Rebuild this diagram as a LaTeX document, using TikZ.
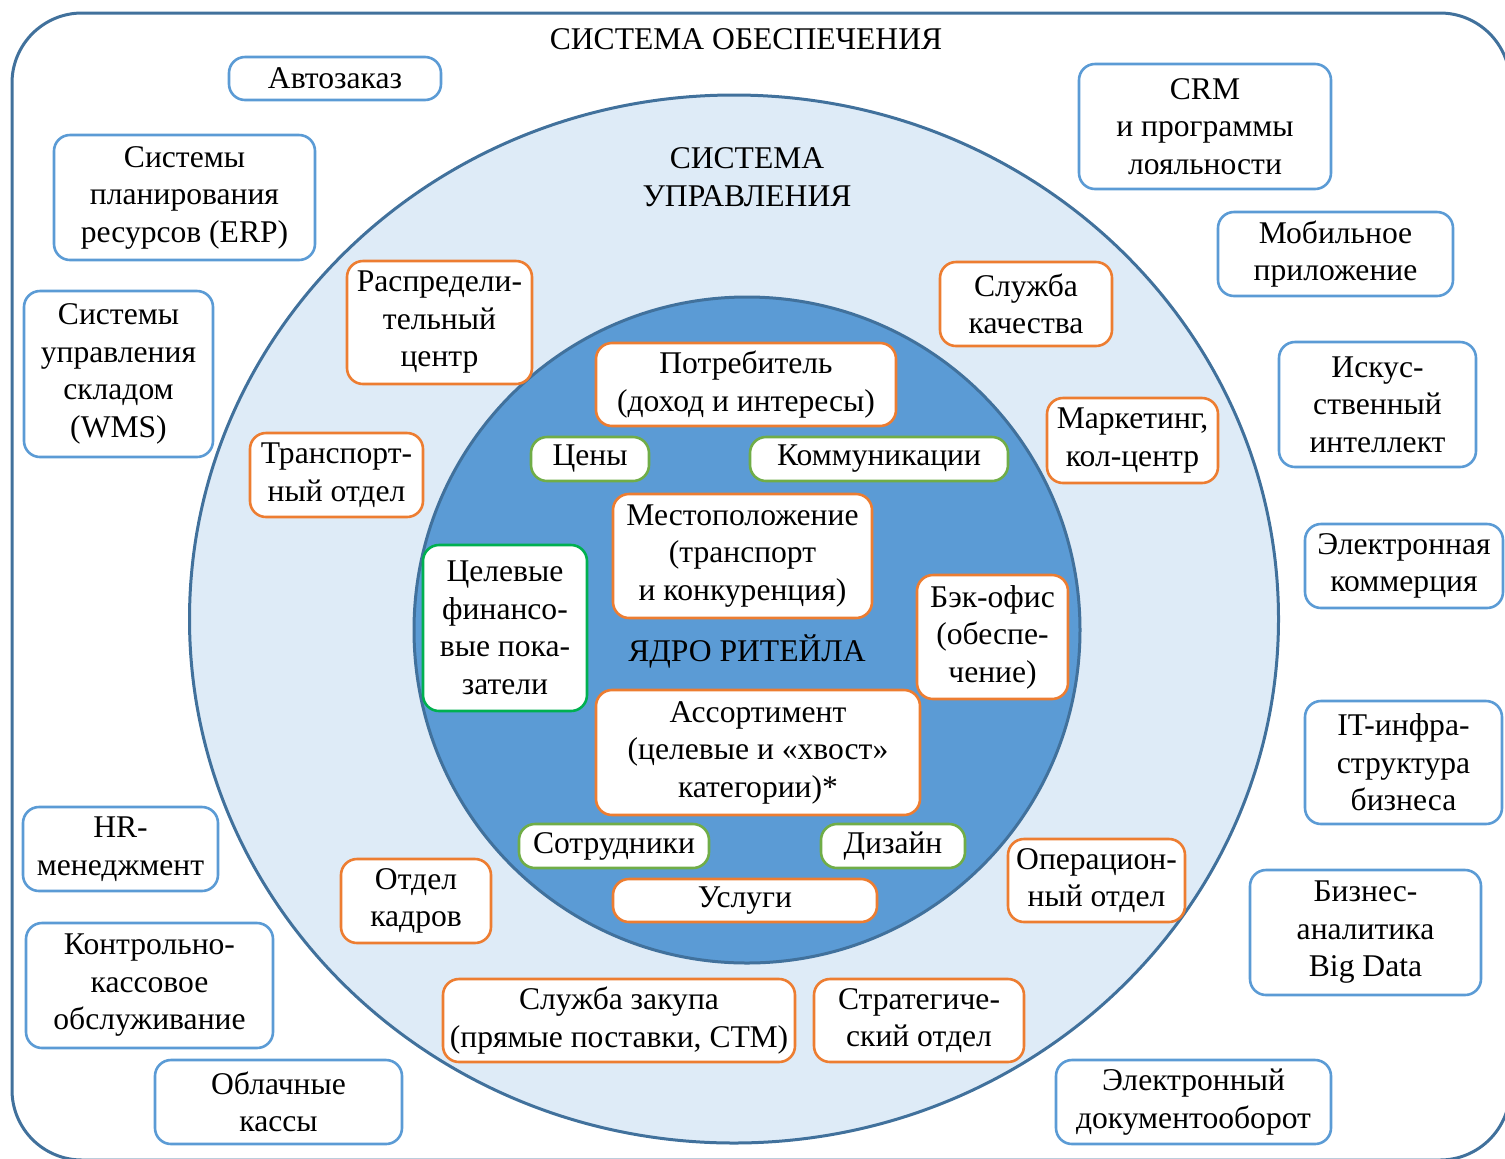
\documentclass[tikz,border=0pt]{standalone}
\usepackage{fontspec}
\setmainfont{Liberation Serif}
\definecolor{FrameBlue}{HTML}{41719C}
\definecolor{RingFill}{HTML}{DEEBF7}
\definecolor{CoreFill}{HTML}{5B9BD5}
\definecolor{BoxBlue}{HTML}{5B9BD5}
\definecolor{BoxOrange}{HTML}{ED7D31}
\definecolor{BoxGreen}{HTML}{70AD47}
\definecolor{KpiGreen}{HTML}{00B050}

\begin{document}
\begin{tikzpicture}[x=0.5pt,y=-0.5pt,
	every node/.style={font=\fontsize{15.8}{18.75}\selectfont,align=center,inner sep=0pt},
	wh/.style 2 args={minimum width=#1*0.5pt,minimum height=#2*0.5pt},
	box/.style={draw,line width=1.3pt,rounded corners=8pt,fill=white},
	supbox/.style={box,draw=BoxBlue},
	mgmtbox/.style={box,draw=BoxOrange},
	mixbox/.style={box,draw=BoxGreen},
	kpibox/.style={box,draw=KpiGreen}]
\useasboundingbox (0,0) rectangle (1505,1158);
\clip (0,0) rectangle (1505,1158);
% rings
\draw[FrameBlue,line width=1.5pt,rounded corners=35pt] (12,13) rectangle (1510,1160);
\draw[FrameBlue,line width=1.5pt,fill=RingFill] (734,619) ellipse [x radius=272.25pt,y radius=262pt];
\draw[FrameBlue,line width=1.5pt,fill=CoreFill] (747,630) circle [radius=166.5pt];
\node (supT) at (746,39) {СИСТЕМА ОБЕСПЕЧЕНИЯ};
\node (mgmtT) at (747,177) {СИСТЕМА\\УПРАВЛЕНИЯ};
\node (coreT) at (747,651) {ЯДРО РИТЕЙЛА};
% support systems
\node[supbox,wh={212}{43}] (auto) at (335,78.5) {Автозаказ};
\node[supbox,wh={261}{125}] (erp) at (184.5,197.5) {Системы\\планирования\\ресурсов (ERP)};
\node[supbox,wh={189}{166}] (wms) at (118.5,374) {Системы\\управления\\складом\\(WMS)};
\node[supbox,wh={252}{125}] (crm) at (1205,126.5) {CRM\\и программы\\лояльности};
\node[supbox,wh={235}{84}] (mobile) at (1335.5,254) {Мобильное\\приложение};
\node[supbox,wh={197}{125}] (ai) at (1377.5,404.5) {Искус-\\ственный\\интеллект};
\node[supbox,wh={198}{84}] (ecom) at (1404,566) {Электронная\\коммерция};
\node[supbox,wh={197}{123}] (itinfra) at (1403.5,762.5) {IT-инфра-\\структура\\бизнеса};
\node[supbox,wh={231}{125}] (bigdata) at (1365.5,932.5) {Бизнес-\\аналитика\\Big Data};
\node[supbox,wh={275}{84}] (edo) at (1193.5,1102) {Электронный\\документооборот};
\node[supbox,wh={195}{84}] (hrm) at (120.5,849) {HR-\\менеджмент};
\node[supbox,wh={247}{125}] (kko) at (149.5,985.5) {Контрольно-\\кассовое\\обслуживание};
\node[supbox,wh={247}{84}] (cloud) at (278.5,1102) {Облачные\\кассы};
% management departments
\node[mgmtbox,wh={185}{123}] (dc) at (439.5,322.5) {Распредели-\\тельный\\центр};
\node[mgmtbox,wh={173}{84}] (transp) at (336.5,475) {Транспорт-\\ный отдел};
\node[mgmtbox,wh={172}{84}] (quality) at (1026,304) {Служба\\качества};
\node[mgmtbox,wh={171}{85}] (mkt) at (1132.5,440.5) {Маркетинг,\\кол-центр};
\node[mgmtbox,wh={177}{83}] (ops) at (1096.5,880.5) {Операцион-\\ный отдел};
\node[mgmtbox,wh={150}{84}] (staffdept) at (416,901) {Отдел\\кадров};
\node[mgmtbox,wh={352}{83}] (purch) at (619,1020.5) {Служба закупа\\(прямые поставки, СТМ)};
\node[mgmtbox,wh={210}{83}] (strat) at (919,1020.5) {Стратегиче-\\ский отдел};
% retail core
\node[mgmtbox,wh={300}{83}] (consumer) at (746,384.5) {Потребитель\\(доход и интересы)};
\node[mixbox,wh={118}{44}] (prices) at (590,459) {Цены};
\node[mixbox,wh={258}{44}] (comm) at (879,459) {Коммуникации};
\node[mgmtbox,wh={259}{124}] (location) at (742.5,556) {Местоположение\\(транспорт\\и конкуренция)};
\node[kpibox,wh={164}{166}] (kpi) at (505,628) {Целевые\\финансо-\\вые пока-\\затели};
\node[mgmtbox,wh={151}{124}] (backoff) at (992.5,637) {Бэк-офис\\(обеспе-\\чение)};
\node[mgmtbox,wh={324}{125}] (assort) at (758,752.5) {Ассортимент\\(целевые и «хвост»\\категории)*};
\node[mixbox,wh={190}{44}] (staff) at (614,846) {Сотрудники};
\node[mixbox,wh={144}{44}] (design) at (893,846) {Дизайн};
\node[mgmtbox,wh={264}{43}] (services) at (745,900.5) {Услуги};
\end{tikzpicture}
\end{document}
